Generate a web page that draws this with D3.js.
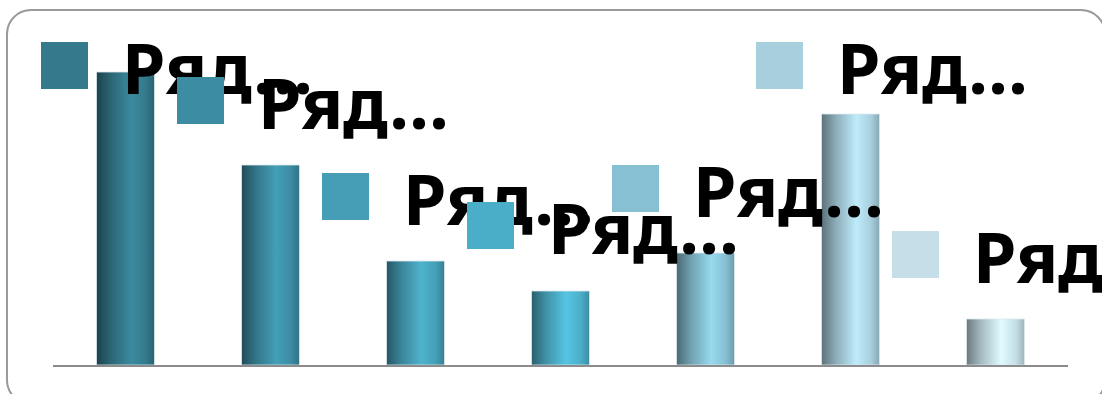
<!DOCTYPE html>
<html>
<head>
<meta charset="utf-8">
<script src="https://cdn.jsdelivr.net/npm/d3@7"></script>
<style>
  body { margin: 0; background: #fff; }
  svg { display: block; }
</style>
</head>
<body>
<svg id="chart" width="1102" height="394"></svg>
<script>
// series names and values (one bar per series)
let seriesNames = ["Ряд 1", "Ряд 2", "Ряд 3", "Ряд 4", "Ряд 5", "Ряд 6", "Ряд 7"];
let seriesValues = [29.3, 20.0, 10.4, 7.4, 11.2, 25.1, 4.6];
let seriesColors = ["#347a8c", "#3c8ca3", "#459eb6", "#4baec8", "#86c0d2", "#a8cfdd", "#c5dee7"];
let legendLabel = "Ряд…";

// legend layout (the legend overlaps itself in the original)
let legendX = [41, 177, 322, 467, 612, 756, 892];
let legendY = [42, 77, 173, 202, 165, 42, 231];

let width = 1102, height = 394;
let svg = d3.select("#chart");

// outer frame
svg.append("rect")
  .attr("x", 7)
  .attr("y", 10)
  .attr("width", 1098)
  .attr("height", 394)
  .attr("rx", 24)
  .attr("fill", "#fff")
  .attr("stroke", "#9a9a9a")
  .attr("stroke-width", 2);

let x = d3.scaleBand()
  .domain(seriesNames)
  .range([53, 1068])
  .paddingInner(0.6)
  .paddingOuter(0.3);

let y = d3.scaleLinear()
  .domain([0, 30])
  .range([365, 65]);

// cylinder look: horizontal gradient for each bar
let defs = svg.append("defs");
seriesColors.forEach((c, i) => {
  let base = d3.color(c);
  let grad = defs.append("linearGradient")
    .attr("id", "grad" + i)
    .attr("x1", "0%").attr("x2", "100%")
    .attr("y1", "0%").attr("y2", "0%");
  let stops = [
    [0, base.darker(1.7)],
    [0.25, base.darker(0.5)],
    [0.6, base.brighter(0.35)],
    [0.85, base],
    [1, base.darker(0.6)]
  ];
  stops.forEach(s => {
    grad.append("stop")
      .attr("offset", s[0])
      .attr("stop-color", s[1].formatHex());
  });
});

svg.append("g")
  .selectAll("rect")
  .data(seriesValues)
  .enter()
  .append("rect")
  .attr("x", (d, i) => x(seriesNames[i]))
  .attr("width", x.bandwidth())
  .attr("y", d => y(d))
  .attr("height", d => y(0) - y(d))
  .attr("fill", (d, i) => "url(#grad" + i + ")")
  .attr("stroke", "#dce9ee")
  .attr("stroke-width", 0.8);

// category axis line only
svg.append("line")
  .attr("x1", x.range()[0])
  .attr("x2", x.range()[1])
  .attr("y1", y(0) + 1)
  .attr("y2", y(0) + 1)
  .attr("stroke", "#8c8c8c")
  .attr("stroke-width", 2);

// legend, drawn over the bars
let legend = svg.append("g");
seriesNames.forEach((name, i) => {
  let g = legend.append("g")
    .attr("transform", "translate(" + legendX[i] + "," + legendY[i] + ")");
  g.append("rect")
    .attr("width", 47)
    .attr("height", 47)
    .attr("fill", seriesColors[i]);
  g.append("text")
    .attr("x", 81)
    .attr("y", 52)
    .attr("font-family", "'Noto Sans', 'DejaVu Sans', sans-serif")
    .attr("font-weight", "bold")
    .attr("font-size", 70)
    .attr("fill", "#000")
    .text(legendLabel);
});
</script>
</body>
</html>
